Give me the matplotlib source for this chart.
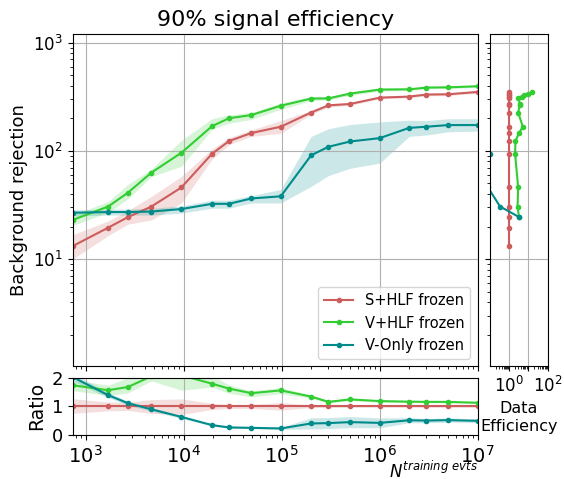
import numpy as np
import matplotlib
matplotlib.use('Agg')
import matplotlib.pyplot as plt
from matplotlib.ticker import FixedLocator, NullFormatter

# training set sizes
n_train = [740, 1700, 2700, 4700, 9500, 1.95e4, 2.9e4, 4.9e4, 9.8e4,
           2e5, 3e5, 5e5, 1e6, 2e6, 3e6, 5e6, 1e7]

# background rejection at 90% signal efficiency (median, lower, upper)
rej_shlf = [13.2, 19.5, 24.4, 30.6, 45.9, 94, 123, 146, 167, 226, 263, 271, 310, 317, 331, 333, 350]
lo_shlf = [10.0, 16.5, 21.0, 23.0, 33.0, 84, 114, 136, 145, 218, 254, 263, 302, 309, 322, 324, 341]
hi_shlf = [16.8, 22.5, 28.0, 38.0, 58.0, 104, 132, 156, 190, 236, 272, 280, 318, 326, 341, 343, 360]

rej_vhlf = [23, 30.6, 41, 63, 96, 169, 200, 214, 261, 304, 305, 338, 368, 370, 384, 386, 395]
lo_vhlf = [20.5, 27, 36, 58, 72, 158, 180, 195, 242, 290, 295, 326, 356, 360, 374, 376, 385]
hi_vhlf = [25.5, 34, 49, 68, 125, 198, 215, 226, 277, 318, 316, 350, 380, 381, 394, 396, 405]

rej_vonly = [26.8, 27.2, 27.2, 27.5, 29, 32.4, 32.4, 36.3, 38, 91, 109, 122, 131, 163, 167, 173, 173]
lo_vonly = [25, 25.5, 25.5, 25.5, 26.6, 29.5, 29.5, 33, 33, 47, 59, 69, 77, 136, 140, 150, 152]
hi_vonly = [28.5, 29, 29, 29.5, 31, 35, 35, 38.5, 44, 136, 160, 175, 185, 192, 190, 198, 198]

# data efficiency relative to S+HLF, evaluated at the S+HLF rejection values
eff_shlf = [1.0] * 17
eff_vhlf = [np.nan, np.nan, 3.2, 2.7, 2.9, 2.0, 2.1, 3.2, 5.1, 2.9, 3.5, 3.6, 2.9, 4.4, 5.8, 9.6, 14.5]
eff_vonly = [np.nan, np.nan, 3.3, 0.33, 0.077, 0.097, 0.055, 0.036, 0.033,
             np.nan, np.nan, np.nan, np.nan, np.nan, np.nan, np.nan, np.nan]

labels = ['S+HLF frozen', 'V+HLF frozen', 'V-Only frozen']
colors = ['indianred', 'limegreen', 'darkcyan']

fig = plt.figure(figsize=(5.64, 4.79), dpi=100)
ax = fig.add_axes([0.129, 0.236, 0.718, 0.693])
axr = fig.add_axes([0.129, 0.092, 0.718, 0.119], sharex=ax)
axe = fig.add_axes([0.869, 0.236, 0.102, 0.693], sharey=ax)

x = np.array(n_train)
ref = np.array(rej_shlf)
series = [(rej_shlf, lo_shlf, hi_shlf, eff_shlf),
          (rej_vhlf, lo_vhlf, hi_vhlf, eff_vhlf),
          (rej_vonly, lo_vonly, hi_vonly, eff_vonly)]

for (rej, lo, hi, eff), lab, c in zip(series, labels, colors):
    rej, lo, hi = np.array(rej), np.array(lo), np.array(hi)
    ax.plot(x, rej, '-o', color=c, lw=1.5, ms=3, label=lab)
    ax.fill_between(x, lo, hi, color=c, alpha=0.2, lw=0)
    axr.plot(x, rej / ref, '-o', color=c, lw=1.5, ms=3)
    axr.fill_between(x, lo / ref, hi / ref, color=c, alpha=0.2, lw=0)
    axe.plot(eff, ref, '-o', color=c, lw=1.5, ms=3)

ax.set_xscale('log')
ax.set_yscale('log')
ax.set_xlim(min(n_train), max(n_train))
ax.set_ylim(1.03, 1200)
ax.grid(True)
ax.set_title('90% signal efficiency', fontsize=16)
ax.set_ylabel('Background rejection', fontsize=13)
ax.tick_params(axis='y', labelsize=12)
ax.tick_params(axis='x', labelbottom=False)
ax.legend(loc='lower right', fontsize=10.5)

axr.set_ylim(0, 2)
axr.set_yticks([0, 1, 2])
axr.grid(True)
axr.set_ylabel('Ratio', fontsize=13.5)
axr.tick_params(axis='y', labelsize=13)
axr.tick_params(axis='x', labelsize=14)
axr.set_xlabel(r'$N^{training\ evts}$', fontsize=12, loc='right', labelpad=-4)

axe.set_xscale('log')
axe.set_xlim(0.1, 100)
axe.xaxis.set_major_locator(FixedLocator([1, 10, 100]))
axe.set_xticklabels(['$10^0$', '', '$10^2$'])
axe.tick_params(axis='x', labelsize=12)
axe.tick_params(axis='y', labelleft=False)
axe.yaxis.set_minor_formatter(NullFormatter())
axe.grid(True)
axe.set_xlabel('Data\nEfficiency', fontsize=11.5)

fig.savefig('out.png', dpi=100)
